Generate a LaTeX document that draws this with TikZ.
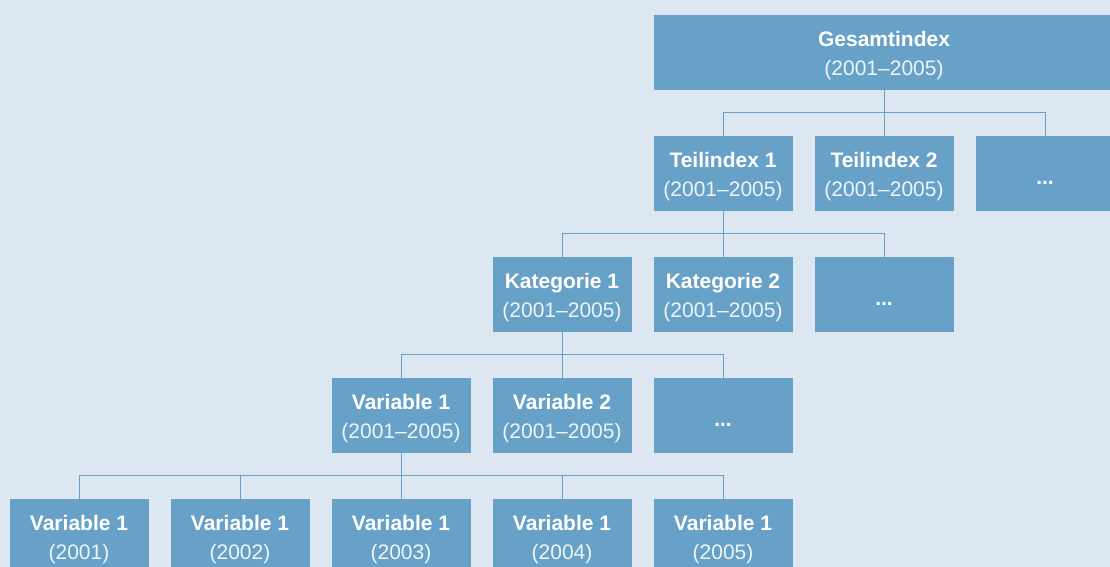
\documentclass[tikz,border=0pt]{standalone}
\usepackage{fontspec}
\setmainfont{Liberation Sans}
\definecolor{bgblue}{HTML}{DDE7F1}
\definecolor{boxblue}{HTML}{68A1C7}
\newcommand{\boxlabel}[2]{\rule{0pt}{22pt}\textbf{#1}\\{\color{white!88!boxblue}#2}}
\tikzset{
  box/.style={fill=boxblue, text=white, minimum width=139pt, minimum height=75pt,
    inner sep=0pt, align=center, font=\fontsize{21}{29}\selectfont},
  dots/.style={box, font=\fontsize{21}{29}\selectfont\bfseries},
  link/.style={draw=boxblue, line width=1pt}
}
\begin{document}
\begin{tikzpicture}[x=1pt, y=-1pt]
\useasboundingbox (0,0) rectangle (1110,567);
\clip (0,0) rectangle (1110,567);
\fill[bgblue] (0,0) rectangle (1110,567);

% level 0
\node[box, minimum width=461pt] (G) at (884,52.5) {\boxlabel{Gesamtindex}{(2001–2005)}};
% level 1
\node[box] (T1) at (723,173.5) {\boxlabel{Teilindex 1}{(2001–2005)}};
\node[box] (T2) at (884,173.5) {\boxlabel{Teilindex 2}{(2001–2005)}};
\node[dots] (T3) at (1045,173.5) {\rule{0pt}{21pt}...};
% level 2
\node[box] (K1) at (562,294.5) {\boxlabel{Kategorie 1}{(2001–2005)}};
\node[box] (K2) at (723,294.5) {\boxlabel{Kategorie 2}{(2001–2005)}};
\node[dots] (K3) at (884,294.5) {\rule{0pt}{21pt}...};
% level 3
\node[box] (V1) at (401,415.5) {\boxlabel{Variable 1}{(2001–2005)}};
\node[box] (V2) at (562,415.5) {\boxlabel{Variable 2}{(2001–2005)}};
\node[dots] (V3) at (723,415.5) {\rule{0pt}{21pt}...};
% level 4
\foreach \i/\yr in {0/2001,1/2002,2/2003,3/2004,4/2005}
  \node[box] (B\i) at (79+161*\i,536.5) {\boxlabel{Variable 1}{(\yr)}};

% connectors
\draw[link] (G.south) -- (T2.north);
\draw[link] (T1.north) -- ++(0,-23) -| (T3.north);
\draw[link] (T1.south) -- (K2.north);
\draw[link] (K1.north) -- ++(0,-23) -| (K3.north);
\draw[link] (K1.south) -- (V2.north);
\draw[link] (V1.north) -- ++(0,-23) -| (V3.north);
\draw[link] (V1.south) -- (B2.north);
\draw[link] (B0.north) -- ++(0,-23) -| (B4.north);
\draw[link] (B1.north) -- ++(0,-23);
\draw[link] (B3.north) -- ++(0,-23);

\end{tikzpicture}
\end{document}
